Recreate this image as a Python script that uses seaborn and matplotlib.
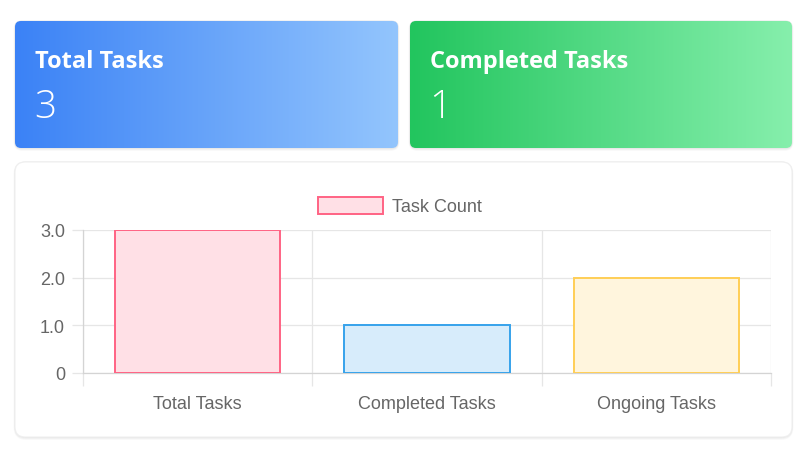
import numpy as np
import matplotlib
matplotlib.use("Agg")
import matplotlib.pyplot as plt
from matplotlib.patches import FancyBboxPatch, Patch
from matplotlib.colors import LinearSegmentedColormap
import seaborn as sns

# data
categories = ["Total Tasks", "Completed Tasks", "Ongoing Tasks"]
task_counts = [3, 1, 2]
card_titles = ["Total Tasks", "Completed Tasks"]
card_values = ["3", "1"]
y_ticks = [0, 1, 2, 3]
y_tick_labels = ["0", "1.0", "2.0", "3.0"]
legend_label = "Task Count"

fill_colors = ["#FFE0E6", "#D7ECFB", "#FFF5DD"]
border_colors = ["#FF6384", "#36A2EB", "#FFCE56"]
card_gradients = [("#3B82F6", "#93C5FD"), ("#22C55E", "#86EFAC")]

W, H = 800, 452

sns.set_style("white")
plt.rcParams["font.family"] = ["Liberation Sans", "DejaVu Sans"]

fig = plt.figure(figsize=(W / 100, H / 100), dpi=100)
fig.patch.set_facecolor("white")

# background canvas in pixel coordinates
bg = fig.add_axes([0, 0, 1, 1])
bg.set_xlim(0, W)
bg.set_ylim(H, 0)
bg.axis("off")


def rounded(x0, y0, x1, y1, r, **kw):
    return FancyBboxPatch((x0, y0), x1 - x0, y1 - y0,
                          boxstyle=f"round,pad=0,rounding_size={r}", **kw)


def shadow(x0, y0, x1, y1, r):
    for i, a in enumerate([0.035, 0.03, 0.025]):
        d = i + 1
        bg.add_patch(rounded(x0 - d * 0.5, y0 - d * 0.3, x1 + d * 0.5, y1 + d,
                             r + d, facecolor="black", edgecolor="none",
                             alpha=a, zorder=1))


# gradient cards
card_boxes = [(15, 22, 398, 149), (410, 22, 792, 149)]
grad = np.linspace(0, 1, 256).reshape(1, -1)
for (x0, y0, x1, y1), (c0, c1), title, value in zip(card_boxes, card_gradients,
                                                    card_titles, card_values):
    shadow(x0, y0, x1, y1, 6)
    clip = rounded(x0, y0, x1, y1, 6, facecolor="none", edgecolor="none")
    bg.add_patch(clip)
    cmap = LinearSegmentedColormap.from_list("g", [c0, c1])
    im = bg.imshow(grad, extent=[x0, x1, y1, y0], aspect="auto", cmap=cmap,
                   interpolation="bilinear", zorder=2)
    im.set_clip_path(clip)
    bg.text(x0 + 20, 62, title, color="white", fontsize=17, fontweight="bold",
            va="center", ha="left", family=["Open Sans", "DejaVu Sans"],
            zorder=3)
    bg.text(x0 + 19, 108, value, color="white", fontsize=28, fontweight="light",
            va="center", ha="left", family=["Open Sans", "DejaVu Sans"],
            zorder=3)

# white chart card
shadow(15, 163, 792, 438, 10)
bg.add_patch(rounded(15, 163, 792, 438, 10, facecolor="white",
                     edgecolor="#efefef", lw=0.8, zorder=2))

# chart axes
ax = fig.add_axes([83 / W, (H - 374) / H, 688 / W, 143 / H])
ax.set_facecolor("none")
sns.barplot(x=categories, y=task_counts, hue=categories, palette=fill_colors,
            width=0.72, saturation=1, linewidth=1.4, legend=False, ax=ax,
            zorder=3)
for patch, ec in zip(ax.patches, border_colors):
    patch.set_edgecolor(ec)

grid_c = "#e6e6e6"
ax.set_xlim(-0.5, len(categories) - 0.5)
ax.set_ylim(0, 3)
ax.set_yticks(y_ticks)
ax.set_yticklabels(y_tick_labels)
ax.set_xticks(np.arange(len(categories) + 1) - 0.5, minor=True)
ax.grid(axis="y", color=grid_c, lw=0.9, zorder=0)
ax.grid(axis="x", which="minor", color=grid_c, lw=0.9, zorder=0)
ax.grid(axis="x", which="major", visible=False)
ax.tick_params(axis="y", length=8, width=0.9, color=grid_c, pad=5,
               labelsize=13, labelcolor="#666666", left=True)
ax.tick_params(axis="x", which="major", length=0, pad=16, labelsize=13,
               labelcolor="#666666")
ax.tick_params(axis="x", which="minor", length=9.5, width=0.9, color=grid_c,
               bottom=True)
for side in ["top", "right"]:
    ax.spines[side].set_visible(False)
for side in ["left", "bottom"]:
    ax.spines[side].set_color("#d4d4d4")
    ax.spines[side].set_linewidth(0.9)
ax.set_xlabel("")
ax.set_ylabel("")

handle = Patch(facecolor=fill_colors[0], edgecolor=border_colors[0], lw=1.4)
fig.legend([handle], [legend_label], loc="center",
           bbox_to_anchor=(400 / W, 1 - 207 / H), frameon=False,
           fontsize=13, labelcolor="#666666", handlelength=3.6,
           handleheight=1.1, handletextpad=0.5, borderpad=0)

fig.savefig("out.png", dpi=100, facecolor="white")
